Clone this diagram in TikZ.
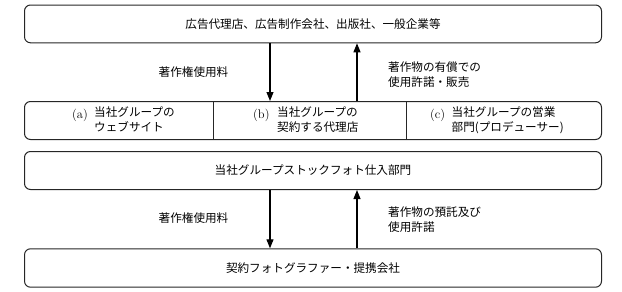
\documentclass[tikz,border=0pt]{standalone}
\usepackage{fontspec}
\newfontfamily\jp{Noto Sans CJK JP}
\usetikzlibrary{arrows.meta}
\tikzset{
  box/.style={draw=black!85, line width=1pt, rounded corners=6pt, minimum width=577pt, inner sep=0pt, anchor=north west},
  arr/.style={line width=1.1pt, -{Triangle[length=9pt,width=7pt]}},
  lbl/.style={font=\jp\fontsize{11.6}{14.8}\selectfont, inner sep=0pt, align=left},
  txt/.style={font=\jp\fontsize{11.6}{14.8}\selectfont, inner sep=0pt, align=left},
  tag/.style={inner sep=0pt, anchor=west, font=\fontsize{12.5}{14}\selectfont}
}
\begin{document}
\begin{tikzpicture}[x=1pt,y=-1pt]
\useasboundingbox (0,0) rectangle (622,292);
\node[box, minimum height=37.8pt] (b1) at (24,4.5) {};
\node[box, minimum height=38pt] (b2) at (24,101) {};
\node[box, minimum height=38pt] (b3) at (24,151) {};
\node[box, minimum height=38.4pt] (b4) at (24,248.3) {};
\coordinate (xd) at (270,0);
\coordinate (xu) at (357,0);
\coordinate (d1) at (213.3,0);
\coordinate (d2) at (406.7,0);
% box texts
\node[txt] (t1) at (b1.center) {広告代理店、広告制作会社、出版社、一般企業等};
\node[txt] (t3) at (b3.center) {当社グループストックフォト仕入部門};
\node[txt] (t4) at (b4.center) {契約フォトグラファー・提携会社};
% dividers
\draw[black!85, line width=1pt] (b2.north -| d1) -- (b2.south -| d1);
\draw[black!85, line width=1pt] (b2.north -| d2) -- (b2.south -| d2);
% cell texts
\node[tag] (pa) at (72,115) {(a)};
\node[txt, anchor=north west] (ta) at (94,107) {当社グループの\\ウェブサイト};
\node[tag] (pb) at (253,115) {(b)};
\node[txt, anchor=north west] (tb) at (277,107) {当社グループの\\契約する代理店};
\node[tag] (pc) at (430,115) {(c)};
\node[txt, anchor=north west] (tc) at (451.5,107) {当社グループの営業\\部門(プロデューサー)};
% arrows upper
\draw[arr] (b1.south -| xd) -- (b2.north -| xd);
\draw[arr] (b2.north -| xu) -- (b1.south -| xu);
\node[lbl, anchor=east] (l1) at (228.5,72) {著作権使用料};
\node[lbl, anchor=west] (r1) at (388,75) {著作物の有償での\\使用許諾・販売};
% arrows lower
\draw[arr] (b3.south -| xd) -- (b4.north -| xd);
\draw[arr] (b4.north -| xu) -- (b3.south -| xu);
\node[lbl, anchor=east] (l2) at (228.5,218) {著作権使用料};
\node[lbl, anchor=west] (r2) at (388,220) {著作物の預託及び\\使用許諾};
\end{tikzpicture}
\end{document}
